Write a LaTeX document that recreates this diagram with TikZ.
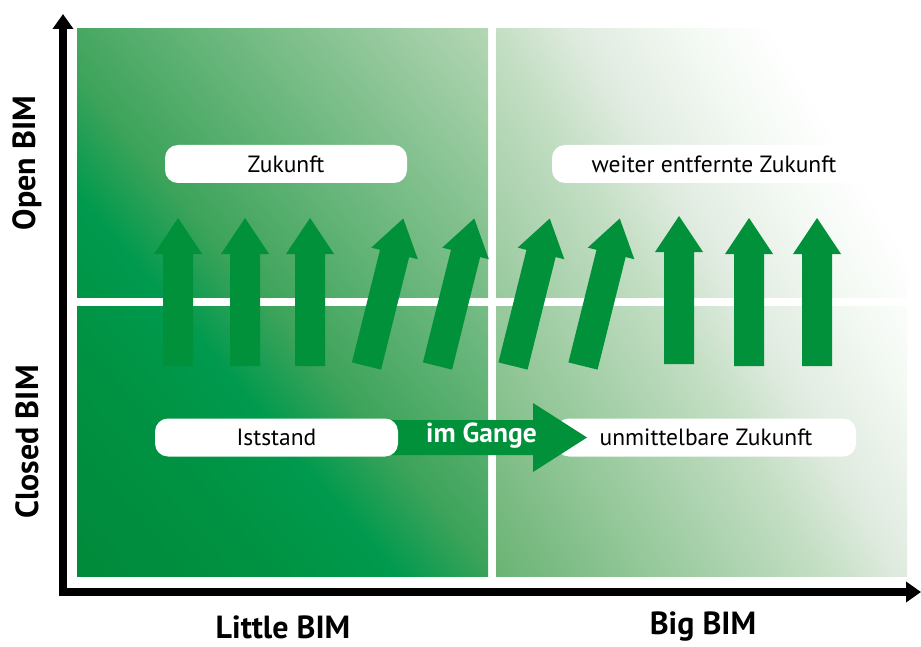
\documentclass[tikz,border=0pt]{standalone}
\usepackage{fontspec}
\setmainfont{PT Sans}
\usetikzlibrary{calc,arrows.meta}
\definecolor{arrowgreen}{RGB}{0,145,58}
\definecolor{lA}{RGB}{0,138,58}
\definecolor{lB}{RGB}{0,146,66}
\definecolor{lC}{RGB}{0,154,78}
\definecolor{lD}{RGB}{60,163,90}
\definecolor{lE}{RGB}{192,219,189}
\definecolor{rA}{RGB}{106,179,116}
\definecolor{rB}{RGB}{197,223,197}
\definecolor{rC}{RGB}{224,235,224}
\definecolor{rD}{RGB}{245,250,245}
\tikzset{
  pics/blockarrow/.style={code={
    \fill[arrowgreen] (-15,0) -- (-15,{-#1+36}) -- (-24,{-#1+36}) -- (0,-#1)
      -- (24,{-#1+36}) -- (15,{-#1+36}) -- (15,0) -- cycle;}},
  labelbox/.style={fill=white, rounded corners=13pt, inner sep=0pt,
    minimum height=38pt, font=\fontsize{23.5}{28}\selectfont, text=black},
  axislabel/.style={font=\bfseries\fontsize{32}{38}\selectfont, text=black},
  axisline/.style={line width=8pt, -{Triangle[length=15pt,width=20pt]}}
}
\begin{document}
\begin{tikzpicture}[x=1pt,y=-1pt]
\useasboundingbox (0,0) rectangle (921,647);
\fill[white] (0,0) rectangle (921,647);
% left half shading
\begin{scope}
  \clip (77,29) rectangle (488,576);
  \begin{scope}[transform canvas={shift={(77,576)},rotate=40}]
    \fill[lA] (-20,-500) rectangle (0.5,500);
    \shade[left color=lA,right color=lB] (0,-500) rectangle (150.5,500);
    \shade[left color=lB,right color=lC] (150,-500) rectangle (245.5,500);
    \shade[left color=lC,right color=lD] (245,-500) rectangle (320.5,500);
    \shade[left color=lD,right color=lE] (320,-500) rectangle (700,500);
  \end{scope}
\end{scope}
% right half shading
\begin{scope}
  \clip (496,29) rectangle (907,576);
  \begin{scope}[transform canvas={shift={(496,576)},rotate=31}]
    \fill[rA] (-20,-600) rectangle (0.5,600);
    \shade[left color=rA,right color=rB] (0,-600) rectangle (285.5,600);
    \shade[left color=rB,right color=rC] (285,-600) rectangle (349.5,600);
    \shade[left color=rC,right color=rD] (349,-600) rectangle (456.5,600);
    \shade[left color=rD,right color=white] (456,-600) rectangle (520.5,600);
    \fill[white] (520,-600) rectangle (700,600);
  \end{scope}
\end{scope}
% white horizontal divider
\fill[white] (77,298) rectangle (907,306);
% axes
\coordinate (origin) at (63,596);
\coordinate (ytip) at (63,14);
\coordinate (xstart) at (59,592);
\coordinate (xtip) at (921,592);
\draw[axisline] (origin) -- (ytip);
\draw[axisline] (xstart) -- (xtip);
% axis labels
\node[axislabel] (little) at (283,627) {Little BIM};
\node[axislabel] (big) at (703,627) {Big BIM};
\node[axislabel, rotate=90] (open) at (27,163) {Open BIM};
\node[axislabel, rotate=90] (closed) at (27,442) {Closed BIM};
% upward arrows
\pic (a1) at (178,366) {blockarrow=148};
\pic (a2) at (245,366) {blockarrow=148};
\pic (a3) at (310,366) {blockarrow=148};
\pic[rotate=-14] (a4) at (366.5,366) {blockarrow=152};
\pic[rotate=-14] (a5) at (437.5,366) {blockarrow=152};
\pic[rotate=-14] (a6) at (513,366) {blockarrow=152};
\pic[rotate=-14] (a7) at (583,366) {blockarrow=152};
\pic (a8) at (679,364) {blockarrow=148};
\pic (a9) at (749,366) {blockarrow=148};
\pic (a10) at (817,366) {blockarrow=148};
% upper boxes
\node[labelbox, minimum width=242pt] (zuk) at (286,164) {Zukunft};
\node[labelbox, minimum width=324pt] (weiter) at (714,164) {weiter entfernte Zukunft};
% lower row
\coordinate (istc) at (276.5,437.5);
\coordinate (gtip) at (587,437.5);
\node[labelbox, minimum width=300pt] (unmit) at (706,437.5) {unmittelbare Zukunft};
\fill[arrowgreen] ([yshift=17.5pt]istc) -- (533,420) -- (533,403) -- (gtip)
  -- (533,472) -- (533,455) -- ([yshift=-17.5pt]istc) -- cycle;
\node[labelbox, minimum width=243pt] (ist) at (istc) {Iststand};
\node[font=\bfseries\fontsize{27.5}{32}\selectfont, text=white] (gange) at (481.5,436) {im Gange};
\end{tikzpicture}
\end{document}
